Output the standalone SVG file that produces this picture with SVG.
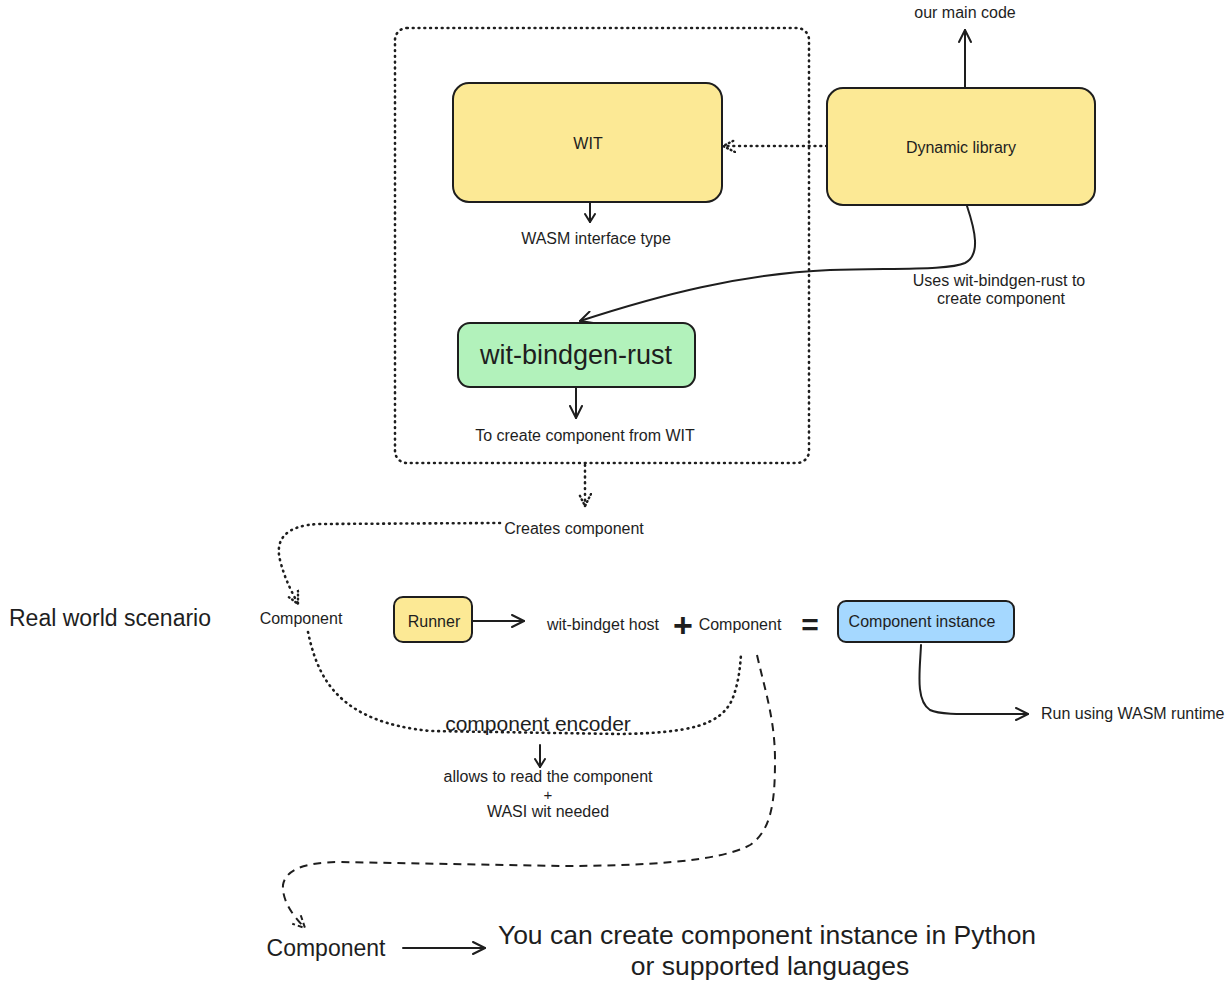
<svg xmlns="http://www.w3.org/2000/svg" width="1228" height="982" viewBox="0 0 1228 982">
<style>
text{font-family:"Liberation Sans",Arial,sans-serif;fill:#1e1e1e;text-anchor:middle}
.s16{font-size:16px}
.box{stroke:#1e1e1e;stroke-width:2}
.yel{fill:#fce995}
.grn{fill:#b2f2bb}
.blu{fill:#a5d8ff}
.ln{fill:none;stroke:#1e1e1e;stroke-width:2;stroke-linecap:round;stroke-linejoin:round}
.dot{stroke-dasharray:0.8 5;stroke-width:2.6}
.dash{stroke-dasharray:8 6;stroke-linecap:butt}
</style>
<defs>
<marker id="a" viewBox="0 0 14 14" refX="13" refY="7" markerWidth="14" markerHeight="14" markerUnits="userSpaceOnUse" orient="auto">
<path d="M1,1 L13,7 L1,13" fill="none" stroke="#1e1e1e" stroke-width="2" stroke-linecap="round" stroke-linejoin="round"/>
</marker>
<marker id="as" viewBox="0 0 10 12" refX="9" refY="6" markerWidth="10" markerHeight="12" markerUnits="userSpaceOnUse" orient="auto">
<path d="M1,1 L9,6 L1,11" fill="none" stroke="#1e1e1e" stroke-width="2" stroke-linecap="round" stroke-linejoin="round"/>
</marker>
<marker id="ad" viewBox="0 0 14 14" refX="13" refY="7" markerWidth="14" markerHeight="14" markerUnits="userSpaceOnUse" orient="auto">
<path d="M1,1 L13,7 L1,13" fill="none" stroke="#1e1e1e" stroke-width="2.4" stroke-dasharray="0.8 3.2" stroke-linecap="round"/>
</marker>
<marker id="adash" viewBox="0 0 14 14" refX="13" refY="7" markerWidth="14" markerHeight="14" markerUnits="userSpaceOnUse" orient="auto">
<path d="M1,1 L13,7 L1,13" fill="none" stroke="#1e1e1e" stroke-width="2" stroke-dasharray="5 3"/>
</marker>
</defs>

<g id="frame">
<rect x="395" y="28" width="414" height="435" rx="12" fill="none" class="ln dot"/>
</g>

<g id="connectors">
<path class="ln" d="M965,88 L965,30" marker-end="url(#a)"/>
<path class="ln dot" d="M827,146 L723,146" marker-end="url(#ad)"/>
<path class="ln" d="M590,203 L590,222" marker-end="url(#as)"/>
<path class="ln" d="M967,206 C975,230 981,255 965,263 C950,270 900,268 830,270 C740,274 660,295 580,321" marker-end="url(#a)"/>
<path class="ln" d="M576,388 L576,418" marker-end="url(#a)"/>
<path class="ln dot" d="M585,465 L585,506" marker-end="url(#ad)"/>
<path class="ln dot" d="M500,523 L320,524 C285,525 275,540 280,560 C285,580 292,592 298,604" marker-end="url(#ad)"/>
<path class="ln" d="M472,621 L524,621" marker-end="url(#a)"/>
<path class="ln" d="M921,645 C920,670 915,700 930,710 C940,715 960,714 1028,714" marker-end="url(#a)"/>
<path class="ln dot" d="M308,632 C318,680 340,722 430,731 L620,734 C690,733 720,725 732,700 C738,685 740,670 741,654"/>
<path class="ln" d="M540,745 L540,767" marker-end="url(#as)"/>
<path class="ln dash" d="M757,655 C765,690 775,720 775,760 C775,800 772,830 750,845 C720,862 640,866 560,866 L340,862 C300,862 285,872 283,885 C282,900 292,915 305,928" marker-end="url(#adash)"/>
<path class="ln" d="M403,948 L485,948" marker-end="url(#a)"/>
</g>

<g id="wit">
<rect class="box yel" x="453" y="83" width="269" height="119" rx="16"/>
<text class="s16" x="588" y="149">WIT</text>
</g>
<text id="wasm-interface-type" class="s16" x="596" y="244">WASM interface type</text>

<g id="dynamic-library">
<rect class="box yel" x="827" y="88" width="268" height="117" rx="16"/>
<text class="s16" x="961" y="153">Dynamic library</text>
</g>
<text id="our-main-code" class="s16" x="965" y="18">our main code</text>
<g id="uses-label">
<text class="s16" x="999" y="286">Uses wit-bindgen-rust to</text>
<text class="s16" x="1001" y="304">create component</text>
</g>

<g id="wit-bindgen-rust">
<rect class="box grn" x="458" y="323" width="237" height="64" rx="12"/>
<text x="576" y="364" style="font-size:27px">wit-bindgen-rust</text>
</g>
<text id="to-create" class="s16" x="585" y="441">To create component from WIT</text>

<text id="creates-component" class="s16" x="574" y="534">Creates component</text>
<text id="real-world" x="110" y="626" style="font-size:23px">Real world scenario</text>
<text id="component-1" class="s16" x="301" y="624">Component</text>

<g id="runner">
<rect class="box yel" x="394" y="597" width="78" height="45" rx="9"/>
<text class="s16" x="434" y="627">Runner</text>
</g>
<text id="host" class="s16" x="603" y="630">wit-bindget host</text>
<text id="plus" x="683" y="637" style="font-size:34px;font-weight:bold">+</text>
<text id="component-2" class="s16" x="740" y="630">Component</text>
<text id="equals" x="810" y="635" style="font-size:30px;font-weight:bold">=</text>

<g id="component-instance">
<rect class="box blu" x="838" y="601" width="176" height="41" rx="8"/>
<text class="s16" x="922" y="627">Component instance</text>
</g>
<text id="run-wasm" class="s16" x="1041" y="719" style="text-anchor:start">Run using WASM runtime</text>

<text id="component-encoder" x="538" y="731" style="font-size:21px">component encoder</text>
<g id="encoder-note">
<text x="548" y="782" style="font-size:16px">allows to read the component</text>
<text x="548" y="800" style="font-size:15px">+</text>
<text x="548" y="817" style="font-size:16px">WASI wit needed</text>
</g>

<text id="component-3" x="326" y="956" style="font-size:23px">Component</text>
<g id="python-note">
<text x="767" y="944" style="font-size:26.5px">You can create component instance in Python</text>
<text x="770" y="975" style="font-size:26.5px">or supported languages</text>
</g>
</svg>
